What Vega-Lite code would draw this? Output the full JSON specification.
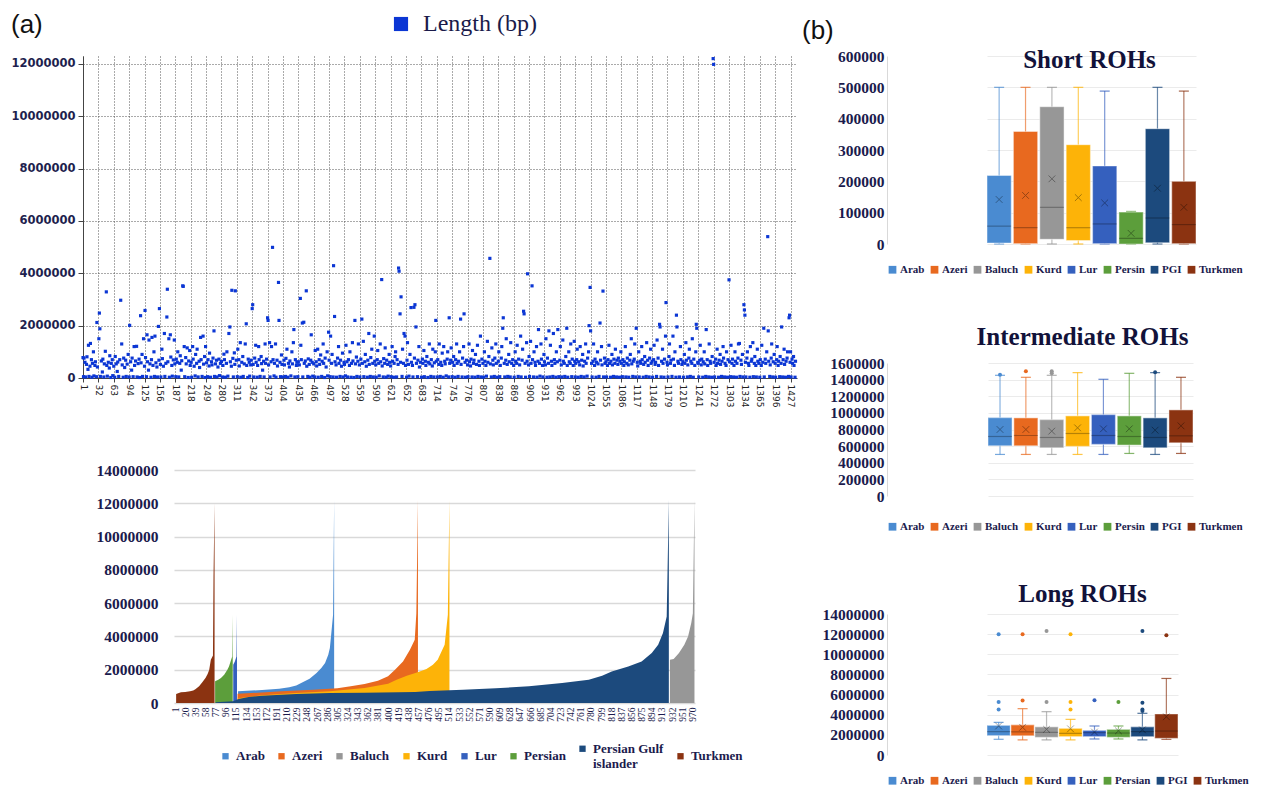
{
"$schema": "https://vega.github.io/schema/vega-lite/v6.json",
"background": "white",
"padding": {"left": 10, "top": 12, "right": 0, "bottom": 0},
"spacing": 4,
"resolve": {"scale": {"color": "independent", "x": "independent", "y": "independent"}, "legend": {"color": "independent"}, "axis": {"x": "independent", "y": "independent"}},
"config": {
  "view": {"stroke": null},
  "font": "Liberation Serif",
  "axis": {"labelFont": "Liberation Serif", "labelFontWeight": "bold", "labelFontSize": 15.5, "labelColor": "#1b1b4d", "ticks": false, "domainColor": "#d9d9d9", "gridColor": "#ebebeb", "labelPadding": 3, "labelOverlap": false},
  "legend": {"orient": "bottom", "direction": "horizontal", "symbolType": "square", "symbolSize": 60, "symbolStrokeWidth": 0, "symbolOpacity": 1, "labelFont": "Liberation Serif", "labelFontWeight": "bold", "labelFontSize": 11, "labelColor": "#1b1b4d", "columnPadding": 4, "labelOffset": 2, "offset": 20}
},
"hconcat": [
{
  "title": {"text": "(a)", "anchor": "start", "font": "Liberation Sans", "fontSize": 26, "fontWeight": "normal", "color": "#111111", "dy": 30},
  "spacing": 56,
  "resolve": {"scale": {"color": "independent", "x": "independent", "y": "independent"}, "legend": {"color": "independent"}},
  "vconcat": [
  {
    "width": 714, "height": 322,
    "data": {"values": [
{"i":1,"v":780000},{"i":2,"v":50000},{"i":3,"v":760000},{"i":5,"v":600000},{"i":6,"v":40000},{"i":8,"v":520000},{"i":9,"v":810000},{"i":11,"v":330000},{"i":12,"v":1250000},{"i":13,"v":60000},{"i":15,"v":450000},{"i":16,"v":1320000},{"i":18,"v":700000},{"i":19,"v":30000},{"i":20,"v":560000},{"i":22,"v":1000000},{"i":23,"v":80000},{"i":25,"v":480000},{"i":26,"v":620000},{"i":28,"v":50000},{"i":29,"v":2120000},{"i":30,"v":420000},
{"i":33,"v":1500000},{"i":34,"v":2480000},{"i":35,"v":1880000},{"i":36,"v":60000},{"i":38,"v":650000},{"i":40,"v":230000},{"i":41,"v":720000},{"i":43,"v":40000},{"i":44,"v":540000},{"i":46,"v":1020000},{"i":48,"v":3290000},{"i":49,"v":480000},{"i":50,"v":70000},{"i":52,"v":600000},{"i":54,"v":380000},{"i":55,"v":850000},{"i":57,"v":20000},{"i":58,"v":560000},{"i":60,"v":700000},{"i":61,"v":90000},
{"i":63,"v":450000},{"i":65,"v":30000},{"i":66,"v":820000},{"i":68,"v":540000},{"i":70,"v":250000},{"i":71,"v":610000},{"i":73,"v":60000},{"i":75,"v":700000},{"i":77,"v":2970000},{"i":79,"v":1300000},{"i":80,"v":500000},{"i":82,"v":30000},{"i":83,"v":760000},{"i":85,"v":400000},{"i":87,"v":680000},{"i":88,"v":60000},{"i":90,"v":530000},{"i":92,"v":900000},
{"i":94,"v":40000},{"i":95,"v":2010000},{"i":97,"v":620000},{"i":99,"v":300000},{"i":100,"v":760000},{"i":102,"v":50000},{"i":104,"v":1200000},{"i":105,"v":480000},{"i":107,"v":650000},{"i":109,"v":1210000},{"i":110,"v":40000},{"i":112,"v":550000},{"i":114,"v":720000},{"i":115,"v":20000},{"i":117,"v":2380000},{"i":118,"v":580000},{"i":120,"v":900000},{"i":121,"v":60000},{"i":123,"v":1500000},
{"i":125,"v":450000},{"i":126,"v":2580000},{"i":127,"v":780000},{"i":129,"v":50000},{"i":130,"v":1650000},{"i":131,"v":620000},{"i":133,"v":300000},{"i":134,"v":1450000},{"i":136,"v":540000},{"i":138,"v":30000},{"i":139,"v":700000},{"i":140,"v":1550000},{"i":142,"v":480000},{"i":144,"v":1000000},{"i":145,"v":60000},{"i":146,"v":1600000},{"i":148,"v":580000},{"i":150,"v":420000},{"i":151,"v":40000},{"i":153,"v":1970000},{"i":154,"v":680000},{"i":155,"v":2650000},
{"i":157,"v":520000},{"i":158,"v":40000},{"i":160,"v":1100000},{"i":161,"v":740000},{"i":163,"v":450000},{"i":165,"v":1700000},{"i":166,"v":60000},{"i":168,"v":560000},{"i":170,"v":2330000},{"i":171,"v":3390000},{"i":172,"v":620000},{"i":174,"v":1500000},{"i":175,"v":30000},{"i":177,"v":1650000},{"i":178,"v":800000},{"i":180,"v":480000},{"i":181,"v":70000},{"i":183,"v":690000},{"i":185,"v":1450000},{"i":186,"v":540000},
{"i":188,"v":50000},{"i":189,"v":720000},{"i":191,"v":600000},{"i":192,"v":1000000},{"i":194,"v":40000},{"i":196,"v":560000},{"i":197,"v":850000},{"i":199,"v":300000},{"i":200,"v":660000},{"i":202,"v":3520000},{"i":203,"v":3500000},{"i":205,"v":1200000},{"i":206,"v":50000},{"i":208,"v":780000},{"i":209,"v":540000},{"i":211,"v":1150000},{"i":213,"v":20000},{"i":214,"v":650000},{"i":216,"v":1050000},{"i":217,"v":480000},
{"i":219,"v":600000},{"i":220,"v":30000},{"i":222,"v":1200000},{"i":223,"v":720000},{"i":225,"v":450000},{"i":227,"v":80000},{"i":228,"v":900000},{"i":230,"v":560000},{"i":231,"v":1100000},{"i":233,"v":40000},{"i":235,"v":640000},{"i":236,"v":400000},{"i":238,"v":1550000},{"i":239,"v":700000},{"i":241,"v":60000},{"i":243,"v":1600000},{"i":244,"v":530000},{"i":246,"v":820000},{"i":247,"v":20000},{"i":248,"v":1200000},
{"i":250,"v":580000},{"i":252,"v":50000},{"i":253,"v":700000},{"i":255,"v":460000},{"i":256,"v":950000},{"i":258,"v":30000},{"i":260,"v":620000},{"i":261,"v":500000},{"i":263,"v":760000},{"i":265,"v":1800000},{"i":266,"v":60000},{"i":268,"v":540000},{"i":270,"v":680000},{"i":271,"v":40000},{"i":273,"v":420000},{"i":275,"v":720000},{"i":276,"v":90000},{"i":278,"v":560000},
{"i":280,"v":630000},{"i":282,"v":40000},{"i":283,"v":480000},{"i":285,"v":910000},{"i":286,"v":700000},{"i":288,"v":30000},{"i":290,"v":560000},{"i":291,"v":1000000},{"i":293,"v":70000},{"i":295,"v":1700000},{"i":297,"v":1950000},{"i":298,"v":620000},{"i":300,"v":450000},{"i":301,"v":3350000},{"i":303,"v":750000},{"i":304,"v":40000},{"i":306,"v":960000},{"i":307,"v":520000},{"i":308,"v":3330000},{"i":310,"v":680000},
{"i":312,"v":50000},{"i":313,"v":1100000},{"i":315,"v":700000},{"i":316,"v":460000},{"i":318,"v":1350000},{"i":319,"v":30000},{"i":321,"v":600000},{"i":323,"v":820000},{"i":324,"v":60000},{"i":326,"v":540000},{"i":328,"v":1300000},{"i":330,"v":2070000},{"i":331,"v":480000},{"i":333,"v":20000},{"i":334,"v":720000},{"i":336,"v":600000},{"i":337,"v":70000},{"i":339,"v":500000},{"i":340,"v":680000},
{"i":342,"v":2650000},{"i":343,"v":2800000},{"i":344,"v":520000},{"i":345,"v":40000},{"i":347,"v":760000},{"i":349,"v":1250000},{"i":350,"v":600000},{"i":352,"v":30000},{"i":353,"v":480000},{"i":355,"v":1200000},{"i":356,"v":700000},{"i":358,"v":60000},{"i":360,"v":820000},{"i":361,"v":550000},{"i":363,"v":300000},{"i":365,"v":640000},{"i":366,"v":40000},{"i":368,"v":1300000},{"i":369,"v":560000},{"i":371,"v":720000},
{"i":373,"v":2300000},{"i":374,"v":2200000},{"i":375,"v":500000},{"i":377,"v":1350000},{"i":378,"v":40000},{"i":380,"v":620000},{"i":381,"v":1200000},{"i":383,"v":4990000},{"i":384,"v":700000},{"i":386,"v":80000},{"i":387,"v":560000},{"i":389,"v":1300000},{"i":390,"v":30000},{"i":392,"v":680000},{"i":393,"v":460000},{"i":395,"v":3650000},{"i":396,"v":2200000},{"i":398,"v":600000},{"i":399,"v":50000},{"i":401,"v":880000},{"i":402,"v":520000},
{"i":404,"v":40000},{"i":406,"v":680000},{"i":407,"v":500000},{"i":409,"v":60000},{"i":410,"v":750000},{"i":412,"v":1100000},{"i":414,"v":30000},{"i":415,"v":560000},{"i":417,"v":420000},{"i":418,"v":650000},{"i":420,"v":80000},{"i":422,"v":1000000},{"i":423,"v":540000},{"i":425,"v":1350000},{"i":426,"v":1850000},{"i":428,"v":40000},{"i":429,"v":700000},{"i":431,"v":480000},{"i":432,"v":600000},{"i":434,"v":50000},
{"i":435,"v":620000},{"i":437,"v":500000},{"i":439,"v":3040000},{"i":440,"v":1250000},{"i":441,"v":700000},{"i":443,"v":2100000},{"i":444,"v":40000},{"i":446,"v":2130000},{"i":447,"v":560000},{"i":449,"v":650000},{"i":451,"v":3330000},{"i":452,"v":450000},{"i":454,"v":60000},{"i":455,"v":730000},{"i":457,"v":520000},{"i":458,"v":30000},{"i":460,"v":680000},{"i":461,"v":1650000},{"i":463,"v":600000},{"i":464,"v":70000},
{"i":466,"v":540000},{"i":468,"v":40000},{"i":469,"v":1050000},{"i":471,"v":620000},{"i":472,"v":460000},{"i":474,"v":1100000},{"i":475,"v":30000},{"i":477,"v":700000},{"i":478,"v":520000},{"i":480,"v":880000},{"i":482,"v":60000},{"i":483,"v":640000},{"i":485,"v":1300000},{"i":486,"v":560000},{"i":488,"v":20000},{"i":489,"v":760000},{"i":491,"v":420000},{"i":493,"v":1000000},{"i":494,"v":80000},{"i":496,"v":1750000},
{"i":497,"v":680000},{"i":499,"v":50000},{"i":500,"v":1600000},{"i":502,"v":560000},{"i":503,"v":900000},{"i":505,"v":40000},{"i":506,"v":4290000},{"i":508,"v":2350000},{"i":509,"v":620000},{"i":511,"v":500000},{"i":512,"v":30000},{"i":514,"v":760000},{"i":516,"v":1200000},{"i":517,"v":560000},{"i":519,"v":60000},{"i":520,"v":680000},{"i":522,"v":450000},{"i":524,"v":950000},{"i":525,"v":40000},{"i":527,"v":600000},
{"i":528,"v":520000},{"i":530,"v":80000},{"i":531,"v":1250000},{"i":533,"v":620000},{"i":534,"v":40000},{"i":536,"v":700000},{"i":538,"v":480000},{"i":539,"v":1000000},{"i":541,"v":30000},{"i":542,"v":560000},{"i":544,"v":1350000},{"i":545,"v":650000},{"i":547,"v":20000},{"i":549,"v":2200000},{"i":550,"v":540000},{"i":552,"v":800000},{"i":553,"v":60000},{"i":555,"v":640000},{"i":556,"v":1300000},{"i":558,"v":500000},
{"i":559,"v":40000},{"i":561,"v":720000},{"i":563,"v":2250000},{"i":564,"v":560000},{"i":566,"v":1400000},{"i":567,"v":50000},{"i":569,"v":620000},{"i":570,"v":900000},{"i":572,"v":450000},{"i":574,"v":30000},{"i":575,"v":680000},{"i":577,"v":1700000},{"i":578,"v":520000},{"i":580,"v":60000},{"i":581,"v":780000},{"i":583,"v":1100000},{"i":585,"v":560000},{"i":586,"v":40000},{"i":588,"v":1600000},{"i":589,"v":640000},
{"i":591,"v":500000},{"i":592,"v":30000},{"i":594,"v":700000},{"i":595,"v":1050000},{"i":597,"v":560000},{"i":598,"v":80000},{"i":600,"v":1300000},{"i":601,"v":620000},{"i":603,"v":3760000},{"i":604,"v":460000},{"i":606,"v":40000},{"i":607,"v":740000},{"i":609,"v":560000},{"i":610,"v":1150000},{"i":612,"v":30000},{"i":613,"v":680000},{"i":615,"v":520000},{"i":616,"v":70000},{"i":618,"v":900000},{"i":619,"v":600000},
{"i":621,"v":460000},{"i":622,"v":50000},{"i":624,"v":1200000},{"i":625,"v":640000},{"i":627,"v":30000},{"i":628,"v":560000},{"i":630,"v":820000},{"i":631,"v":1000000},{"i":633,"v":40000},{"i":634,"v":700000},{"i":636,"v":520000},{"i":637,"v":4200000},{"i":638,"v":4080000},{"i":640,"v":2450000},{"i":641,"v":600000},{"i":642,"v":3100000},{"i":644,"v":60000},{"i":645,"v":1100000},{"i":647,"v":560000},{"i":648,"v":1700000},{"i":650,"v":1600000},{"i":651,"v":480000},
{"i":653,"v":30000},{"i":654,"v":680000},{"i":655,"v":1350000},{"i":657,"v":520000},{"i":658,"v":70000},{"i":660,"v":900000},{"i":662,"v":2690000},{"i":663,"v":600000},{"i":665,"v":480000},{"i":666,"v":40000},{"i":668,"v":2700000},{"i":669,"v":760000},{"i":670,"v":2800000},{"i":672,"v":1950000},{"i":673,"v":560000},{"i":675,"v":50000},{"i":676,"v":680000},{"i":678,"v":1200000},{"i":679,"v":420000},{"i":681,"v":600000},
{"i":683,"v":30000},{"i":685,"v":720000},{"i":686,"v":560000},{"i":688,"v":1050000},{"i":689,"v":50000},{"i":691,"v":640000},{"i":692,"v":480000},{"i":694,"v":820000},{"i":696,"v":20000},{"i":697,"v":600000},{"i":699,"v":1300000},{"i":700,"v":540000},{"i":702,"v":60000},{"i":703,"v":700000},{"i":705,"v":460000},{"i":706,"v":1100000},{"i":708,"v":40000},{"i":709,"v":580000},{"i":711,"v":1000000},{"i":712,"v":2200000},{"i":713,"v":640000},
{"i":715,"v":40000},{"i":716,"v":700000},{"i":718,"v":520000},{"i":719,"v":1300000},{"i":721,"v":60000},{"i":722,"v":600000},{"i":724,"v":480000},{"i":725,"v":950000},{"i":727,"v":30000},{"i":728,"v":1200000},{"i":730,"v":640000},{"i":731,"v":540000},{"i":733,"v":80000},{"i":735,"v":720000},{"i":736,"v":1000000},{"i":738,"v":40000},{"i":739,"v":2300000},{"i":740,"v":560000},{"i":742,"v":680000},{"i":743,"v":1150000},
{"i":745,"v":50000},{"i":746,"v":600000},{"i":748,"v":820000},{"i":749,"v":480000},{"i":751,"v":30000},{"i":752,"v":700000},{"i":754,"v":1300000},{"i":755,"v":560000},{"i":757,"v":60000},{"i":758,"v":640000},{"i":760,"v":1000000},{"i":762,"v":2250000},{"i":763,"v":520000},{"i":765,"v":40000},{"i":766,"v":760000},{"i":768,"v":1200000},{"i":769,"v":2450000},{"i":771,"v":600000},{"i":772,"v":30000},{"i":774,"v":680000},
{"i":776,"v":500000},{"i":777,"v":50000},{"i":779,"v":1300000},{"i":780,"v":620000},{"i":782,"v":460000},{"i":783,"v":720000},{"i":785,"v":40000},{"i":786,"v":1050000},{"i":788,"v":560000},{"i":789,"v":680000},{"i":791,"v":30000},{"i":792,"v":900000},{"i":794,"v":520000},{"i":796,"v":1250000},{"i":797,"v":60000},{"i":799,"v":640000},{"i":800,"v":480000},{"i":802,"v":1600000},{"i":803,"v":40000},{"i":805,"v":720000},
{"i":807,"v":560000},{"i":808,"v":30000},{"i":810,"v":1000000},{"i":811,"v":640000},{"i":813,"v":480000},{"i":814,"v":70000},{"i":816,"v":1400000},{"i":817,"v":600000},{"i":819,"v":820000},{"i":821,"v":4570000},{"i":822,"v":540000},{"i":824,"v":40000},{"i":825,"v":1150000},{"i":827,"v":680000},{"i":828,"v":500000},{"i":830,"v":60000},{"i":831,"v":760000},{"i":833,"v":1300000},{"i":834,"v":560000},{"i":836,"v":30000},
{"i":838,"v":640000},{"i":839,"v":1000000},{"i":841,"v":50000},{"i":842,"v":480000},{"i":844,"v":760000},{"i":845,"v":1200000},{"i":847,"v":1900000},{"i":848,"v":2300000},{"i":850,"v":560000},{"i":851,"v":40000},{"i":853,"v":680000},{"i":854,"v":1500000},{"i":856,"v":520000},{"i":857,"v":60000},{"i":859,"v":900000},{"i":860,"v":620000},{"i":862,"v":40000},{"i":863,"v":1350000},{"i":865,"v":560000},{"i":867,"v":700000},
{"i":869,"v":480000},{"i":870,"v":30000},{"i":872,"v":1000000},{"i":873,"v":640000},{"i":875,"v":560000},{"i":876,"v":1250000},{"i":878,"v":60000},{"i":879,"v":720000},{"i":881,"v":500000},{"i":883,"v":1600000},{"i":884,"v":40000},{"i":886,"v":680000},{"i":887,"v":1100000},{"i":889,"v":2550000},{"i":890,"v":2450000},{"i":892,"v":560000},{"i":893,"v":30000},{"i":895,"v":1350000},{"i":896,"v":640000},{"i":897,"v":3980000},{"i":899,"v":500000},
{"i":900,"v":820000},{"i":901,"v":60000},{"i":903,"v":1400000},{"i":904,"v":560000},{"i":906,"v":3520000},{"i":907,"v":700000},{"i":909,"v":40000},{"i":910,"v":1000000},{"i":912,"v":600000},{"i":913,"v":480000},{"i":915,"v":1200000},{"i":916,"v":30000},{"i":918,"v":640000},{"i":919,"v":1850000},{"i":921,"v":560000},{"i":922,"v":70000},{"i":924,"v":1300000},{"i":925,"v":720000},{"i":927,"v":480000},{"i":928,"v":40000},{"i":930,"v":900000},
{"i":931,"v":620000},{"i":933,"v":500000},{"i":934,"v":1500000},{"i":936,"v":30000},{"i":937,"v":760000},{"i":939,"v":560000},{"i":940,"v":1800000},{"i":942,"v":40000},{"i":943,"v":1250000},{"i":945,"v":640000},{"i":946,"v":480000},{"i":948,"v":60000},{"i":949,"v":1700000},{"i":951,"v":700000},{"i":952,"v":560000},{"i":954,"v":30000},{"i":955,"v":1000000},{"i":957,"v":620000},{"i":958,"v":1850000},{"i":960,"v":50000},
{"i":962,"v":680000},{"i":963,"v":1200000},{"i":965,"v":500000},{"i":966,"v":40000},{"i":968,"v":1450000},{"i":969,"v":640000},{"i":971,"v":560000},{"i":972,"v":60000},{"i":974,"v":820000},{"i":976,"v":1900000},{"i":977,"v":480000},{"i":978,"v":30000},{"i":980,"v":1000000},{"i":981,"v":620000},{"i":983,"v":560000},{"i":984,"v":1300000},{"i":986,"v":50000},{"i":987,"v":720000},{"i":989,"v":480000},{"i":991,"v":1400000},{"i":992,"v":640000},
{"i":993,"v":40000},{"i":994,"v":560000},{"i":996,"v":700000},{"i":997,"v":1100000},{"i":999,"v":30000},{"i":1000,"v":620000},{"i":1002,"v":500000},{"i":1003,"v":1200000},{"i":1005,"v":60000},{"i":1006,"v":680000},{"i":1008,"v":900000},{"i":1009,"v":460000},{"i":1011,"v":40000},{"i":1012,"v":640000},{"i":1014,"v":1300000},{"i":1015,"v":560000},{"i":1017,"v":70000},{"i":1018,"v":760000},{"i":1020,"v":1000000},{"i":1021,"v":2000000},{"i":1023,"v":3460000},{"i":1024,"v":1800000},
{"i":1026,"v":560000},{"i":1027,"v":40000},{"i":1029,"v":640000},{"i":1030,"v":1300000},{"i":1032,"v":480000},{"i":1033,"v":720000},{"i":1035,"v":30000},{"i":1036,"v":600000},{"i":1038,"v":1000000},{"i":1039,"v":540000},{"i":1041,"v":60000},{"i":1043,"v":2100000},{"i":1044,"v":680000},{"i":1046,"v":1200000},{"i":1047,"v":500000},{"i":1049,"v":3320000},{"i":1050,"v":40000},{"i":1052,"v":760000},{"i":1053,"v":560000},
{"i":1055,"v":620000},{"i":1056,"v":40000},{"i":1058,"v":480000},{"i":1059,"v":700000},{"i":1061,"v":1250000},{"i":1062,"v":560000},{"i":1064,"v":30000},{"i":1065,"v":640000},{"i":1067,"v":900000},{"i":1068,"v":500000},{"i":1070,"v":60000},{"i":1071,"v":720000},{"i":1073,"v":560000},{"i":1074,"v":1100000},{"i":1076,"v":40000},{"i":1077,"v":680000},{"i":1079,"v":520000},{"i":1080,"v":760000},{"i":1082,"v":30000},{"i":1083,"v":640000},{"i":1085,"v":1000000},
{"i":1086,"v":560000},{"i":1088,"v":50000},{"i":1089,"v":700000},{"i":1091,"v":480000},{"i":1092,"v":620000},{"i":1094,"v":1200000},{"i":1095,"v":40000},{"i":1097,"v":560000},{"i":1098,"v":760000},{"i":1100,"v":500000},{"i":1101,"v":30000},{"i":1103,"v":680000},{"i":1104,"v":900000},{"i":1106,"v":1500000},{"i":1107,"v":540000},{"i":1109,"v":60000},{"i":1110,"v":640000},{"i":1112,"v":720000},{"i":1113,"v":1300000},{"i":1115,"v":40000},{"i":1116,"v":1900000},
{"i":1118,"v":600000},{"i":1119,"v":460000},{"i":1121,"v":1000000},{"i":1122,"v":40000},{"i":1124,"v":640000},{"i":1125,"v":560000},{"i":1127,"v":1200000},{"i":1128,"v":700000},{"i":1130,"v":30000},{"i":1131,"v":520000},{"i":1133,"v":820000},{"i":1134,"v":600000},{"i":1136,"v":60000},{"i":1137,"v":1350000},{"i":1139,"v":680000},{"i":1140,"v":480000},{"i":1142,"v":40000},{"i":1143,"v":760000},{"i":1145,"v":1100000},{"i":1146,"v":560000},
{"i":1148,"v":640000},{"i":1149,"v":30000},{"i":1151,"v":700000},{"i":1152,"v":1250000},{"i":1154,"v":520000},{"i":1155,"v":600000},{"i":1157,"v":60000},{"i":1158,"v":1450000},{"i":1160,"v":760000},{"i":1161,"v":480000},{"i":1163,"v":2050000},{"i":1164,"v":1950000},{"i":1166,"v":40000},{"i":1167,"v":640000},{"i":1169,"v":1100000},{"i":1170,"v":560000},{"i":1172,"v":30000},{"i":1173,"v":720000},{"i":1175,"v":1600000},{"i":1176,"v":2880000},{"i":1178,"v":600000},
{"i":1179,"v":500000},{"i":1180,"v":40000},{"i":1182,"v":820000},{"i":1183,"v":1300000},{"i":1185,"v":560000},{"i":1186,"v":680000},{"i":1188,"v":60000},{"i":1190,"v":1600000},{"i":1191,"v":720000},{"i":1193,"v":480000},{"i":1194,"v":1000000},{"i":1196,"v":30000},{"i":1197,"v":2400000},{"i":1198,"v":1950000},{"i":1200,"v":640000},{"i":1201,"v":560000},{"i":1203,"v":40000},{"i":1205,"v":1200000},{"i":1206,"v":700000},{"i":1208,"v":520000},
{"i":1210,"v":620000},{"i":1211,"v":30000},{"i":1213,"v":900000},{"i":1214,"v":560000},{"i":1216,"v":1350000},{"i":1217,"v":680000},{"i":1219,"v":40000},{"i":1220,"v":500000},{"i":1222,"v":760000},{"i":1223,"v":1100000},{"i":1225,"v":60000},{"i":1226,"v":640000},{"i":1228,"v":560000},{"i":1229,"v":1500000},{"i":1231,"v":30000},{"i":1232,"v":720000},{"i":1234,"v":480000},{"i":1236,"v":1000000},{"i":1237,"v":2050000},{"i":1238,"v":1900000},{"i":1240,"v":600000},
{"i":1241,"v":560000},{"i":1242,"v":40000},{"i":1244,"v":680000},{"i":1245,"v":1250000},{"i":1247,"v":500000},{"i":1248,"v":720000},{"i":1250,"v":30000},{"i":1251,"v":620000},{"i":1253,"v":1000000},{"i":1254,"v":540000},{"i":1256,"v":60000},{"i":1257,"v":1850000},{"i":1259,"v":700000},{"i":1260,"v":480000},{"i":1262,"v":40000},{"i":1263,"v":1300000},{"i":1265,"v":640000},{"i":1266,"v":560000},{"i":1268,"v":30000},{"i":1269,"v":820000},{"i":1271,"v":12200000},{"i":1272,"v":11980000},
{"i":1273,"v":600000},{"i":1274,"v":40000},{"i":1276,"v":720000},{"i":1277,"v":480000},{"i":1279,"v":1100000},{"i":1280,"v":560000},{"i":1282,"v":30000},{"i":1283,"v":680000},{"i":1285,"v":900000},{"i":1286,"v":520000},{"i":1288,"v":60000},{"i":1289,"v":640000},{"i":1291,"v":1200000},{"i":1292,"v":760000},{"i":1294,"v":40000},{"i":1295,"v":560000},{"i":1297,"v":480000},{"i":1298,"v":1000000},{"i":1300,"v":30000},{"i":1301,"v":700000},{"i":1303,"v":3750000},
{"i":1304,"v":620000},{"i":1306,"v":50000},{"i":1307,"v":1250000},{"i":1309,"v":560000},{"i":1310,"v":720000},{"i":1312,"v":40000},{"i":1313,"v":480000},{"i":1315,"v":1000000},{"i":1316,"v":640000},{"i":1318,"v":30000},{"i":1319,"v":560000},{"i":1321,"v":760000},{"i":1322,"v":1300000},{"i":1324,"v":1320000},{"i":1325,"v":60000},{"i":1327,"v":680000},{"i":1328,"v":520000},{"i":1330,"v":900000},{"i":1331,"v":40000},{"i":1333,"v":2800000},
{"i":1334,"v":2600000},{"i":1335,"v":2400000},{"i":1336,"v":600000},{"i":1337,"v":40000},{"i":1339,"v":760000},{"i":1340,"v":1000000},{"i":1342,"v":560000},{"i":1343,"v":480000},{"i":1345,"v":30000},{"i":1346,"v":1200000},{"i":1348,"v":640000},{"i":1349,"v":720000},{"i":1351,"v":1350000},{"i":1352,"v":50000},{"i":1354,"v":560000},{"i":1355,"v":820000},{"i":1357,"v":480000},{"i":1358,"v":40000},{"i":1360,"v":1100000},{"i":1361,"v":640000},{"i":1363,"v":560000},
{"i":1365,"v":30000},{"i":1366,"v":700000},{"i":1368,"v":480000},{"i":1369,"v":1250000},{"i":1371,"v":600000},{"i":1373,"v":1900000},{"i":1374,"v":40000},{"i":1376,"v":720000},{"i":1377,"v":560000},{"i":1379,"v":1000000},{"i":1381,"v":5400000},{"i":1382,"v":1800000},{"i":1383,"v":640000},{"i":1385,"v":60000},{"i":1386,"v":500000},{"i":1388,"v":760000},{"i":1389,"v":1300000},{"i":1391,"v":40000},{"i":1392,"v":620000},{"i":1394,"v":900000},
{"i":1396,"v":560000},{"i":1397,"v":30000},{"i":1399,"v":700000},{"i":1400,"v":1200000},{"i":1402,"v":480000},{"i":1403,"v":640000},{"i":1405,"v":50000},{"i":1406,"v":820000},{"i":1408,"v":560000},{"i":1409,"v":1950000},{"i":1411,"v":40000},{"i":1412,"v":700000},{"i":1414,"v":1100000},{"i":1415,"v":520000},{"i":1417,"v":30000},{"i":1418,"v":640000},{"i":1420,"v":760000},{"i":1421,"v":1000000},{"i":1423,"v":60000},{"i":1424,"v":2300000},{"i":1425,"v":2400000},{"i":1426,"v":600000},
{"i":1427,"v":1000000},{"i":1428,"v":40000},{"i":1430,"v":720000},{"i":1431,"v":560000},{"i":1433,"v":820000},{"i":1434,"v":480000},{"i":1436,"v":30000},{"i":1437,"v":640000}
    ]},
    "mark": {"type": "square", "size": 10, "opacity": 1},
    "encoding": {
      "x": {"field": "i", "type": "quantitative", "scale": {"domain": [1, 1440], "nice": false, "zero": false},
        "axis": {"values": [1,32,63,94,125,156,187,218,249,280,311,342,373,404,435,466,497,528,559,590,621,652,683,714,745,776,807,838,869,900,931,962,993,1024,1055,1086,1117,1148,1179,1210,1241,1272,1303,1334,1365,1396,1427],
          "format": "d", "title": null, "labelAngle": 90, "labelAlign": "left", "labelBaseline": "middle", "labelFont": "DejaVu Sans", "labelFontWeight": "normal", "labelFontSize": 9, "labelColor": "#222222", "labelPadding": 2, "labelOverlap": false,
          "grid": true, "gridDash": [1, 2], "gridColor": "#555555", "gridWidth": 1, "domainColor": "#444444", "ticks": true, "tickColor": "#444444", "tickSize": 4}},
      "y": {"field": "v", "type": "quantitative", "scale": {"domain": [0, 12300000], "nice": false},
        "axis": {"values": [0,2000000,4000000,6000000,8000000,10000000,12000000], "format": "d", "title": null,
          "labelFont": "DejaVu Sans", "labelFontWeight": "bold", "labelFontSize": 11.5, "labelColor": "#1f1f4f", "labelPadding": 3, "labelOverlap": false,
          "grid": true, "gridDash": [1, 2], "gridColor": "#555555", "domainColor": "#444444", "ticks": true, "tickColor": "#444444", "tickSize": 5}},
      "color": {"datum": "Length (bp)", "type": "nominal", "scale": {"range": ["#0b36d4"]},
        "legend": {"orient": "none", "legendX": 306, "legendY": -44, "title": null, "symbolType": "square", "symbolSize": 200, "labelFont": "Liberation Serif", "labelFontWeight": "normal", "labelFontSize": 24, "labelColor": "#1a1a4a", "labelOffset": 10}}
    }
  },
  {
    "spacing": 0,
    "resolve": {"scale": {"color": "independent", "x": "independent", "y": "independent"}, "legend": {"color": "independent"}},
    "hconcat": [
      {"width": 13, "height": 233, "data": {"values": [{}]}, "mark": {"type": "point", "opacity": 0}, "encoding": {}},
      {
        "width": 521, "height": 233,
        "data": {"values": [
{"p":"Turkmen","i":3,"v":540000},{"p":"Turkmen","i":8,"v":600000},{"p":"Turkmen","i":12,"v":640000},{"p":"Turkmen","i":20,"v":660000},{"p":"Turkmen","i":29,"v":700000},{"p":"Turkmen","i":35,"v":750000},{"p":"Turkmen","i":39,"v":820000},{"p":"Turkmen","i":46,"v":1000000},{"p":"Turkmen","i":52,"v":1250000},{"p":"Turkmen","i":58,"v":1500000},{"p":"Turkmen","i":62,"v":1750000},{"p":"Turkmen","i":65,"v":2000000},{"p":"Turkmen","i":68,"v":2600000},{"p":"Turkmen","i":72,"v":2850000},{"p":"Turkmen","i":73,"v":7600000},{"p":"Turkmen","i":75,"v":12000000},
{"p":"Persian","i":76,"v":1300000},{"p":"Persian","i":82,"v":1400000},{"p":"Persian","i":87,"v":1500000},{"p":"Persian","i":93,"v":1700000},{"p":"Persian","i":99,"v":2000000},{"p":"Persian","i":102,"v":2200000},{"p":"Persian","i":105,"v":2500000},{"p":"Persian","i":108,"v":2800000},{"p":"Persian","i":109,"v":5300000},
{"p":"Lur","i":110,"v":2300000},{"p":"Lur","i":113,"v":2500000},{"p":"Lur","i":116,"v":2800000},{"p":"Lur","i":117,"v":5300000},
{"p":"Arab","i":119,"v":700000},{"p":"Arab","i":164,"v":780000},{"p":"Arab","i":196,"v":850000},{"p":"Arab","i":215,"v":950000},{"p":"Arab","i":228,"v":1050000},{"p":"Arab","i":240,"v":1250000},{"p":"Arab","i":253,"v":1450000},{"p":"Arab","i":266,"v":1800000},{"p":"Arab","i":275,"v":2100000},{"p":"Arab","i":282,"v":2400000},{"p":"Arab","i":288,"v":2900000},{"p":"Arab","i":291,"v":3300000},{"p":"Arab","i":294,"v":4300000},{"p":"Arab","i":297,"v":5300000},{"p":"Arab","i":299,"v":12200000},
{"p":"Azeri","i":118,"v":550000},{"p":"Azeri","i":200,"v":700000},{"p":"Azeri","i":260,"v":800000},{"p":"Azeri","i":305,"v":880000},{"p":"Azeri","i":330,"v":1000000},{"p":"Azeri","i":356,"v":1140000},{"p":"Azeri","i":381,"v":1340000},{"p":"Azeri","i":400,"v":1600000},{"p":"Azeri","i":413,"v":2000000},{"p":"Azeri","i":428,"v":2500000},{"p":"Azeri","i":441,"v":3200000},{"p":"Azeri","i":450,"v":3800000},{"p":"Azeri","i":453,"v":5400000},{"p":"Azeri","i":456,"v":12200000},
{"p":"Kurd","i":118,"v":250000},{"p":"Kurd","i":123,"v":300000},{"p":"Kurd","i":164,"v":460000},{"p":"Kurd","i":228,"v":600000},{"p":"Kurd","i":291,"v":700000},{"p":"Kurd","i":356,"v":900000},{"p":"Kurd","i":400,"v":1150000},{"p":"Kurd","i":416,"v":1400000},{"p":"Kurd","i":435,"v":1640000},{"p":"Kurd","i":454,"v":1840000},{"p":"Kurd","i":472,"v":2040000},{"p":"Kurd","i":484,"v":2300000},{"p":"Kurd","i":493,"v":2600000},{"p":"Kurd","i":506,"v":3500000},{"p":"Kurd","i":512,"v":5300000},{"p":"Kurd","i":515,"v":12200000},
{"p":"Persian Gulf islander","i":77,"v":40000},{"p":"Persian Gulf islander","i":110,"v":100000},{"p":"Persian Gulf islander","i":120,"v":240000},{"p":"Persian Gulf islander","i":139,"v":360000},{"p":"Persian Gulf islander","i":164,"v":440000},{"p":"Persian Gulf islander","i":228,"v":540000},{"p":"Persian Gulf islander","i":291,"v":600000},{"p":"Persian Gulf islander","i":356,"v":620000},{"p":"Persian Gulf islander","i":451,"v":660000},{"p":"Persian Gulf islander","i":478,"v":720000},{"p":"Persian Gulf islander","i":540,"v":800000},{"p":"Persian Gulf islander","i":602,"v":880000},{"p":"Persian Gulf islander","i":664,"v":1000000},{"p":"Persian Gulf islander","i":726,"v":1200000},{"p":"Persian Gulf islander","i":776,"v":1400000},{"p":"Persian Gulf islander","i":801,"v":1640000},{"p":"Persian Gulf islander","i":819,"v":1900000},{"p":"Persian Gulf islander","i":850,"v":2200000},{"p":"Persian Gulf islander","i":875,"v":2500000},{"p":"Persian Gulf islander","i":894,"v":3000000},{"p":"Persian Gulf islander","i":906,"v":3500000},{"p":"Persian Gulf islander","i":915,"v":4200000},{"p":"Persian Gulf islander","i":922,"v":5200000},{"p":"Persian Gulf islander","i":926,"v":12200000},
{"p":"Baluch","i":928,"v":2600000},{"p":"Baluch","i":935,"v":2650000},{"p":"Baluch","i":945,"v":3000000},{"p":"Baluch","i":955,"v":3500000},{"p":"Baluch","i":962,"v":4000000},{"p":"Baluch","i":968,"v":4800000},{"p":"Baluch","i":971,"v":5400000},{"p":"Baluch","i":974,"v":12200000}
        ]},
        "mark": {"type": "area", "interpolate": "linear"},
        "encoding": {
          "x": {"field": "i", "type": "quantitative", "scale": {"domain": [-1, 975], "nice": false, "zero": false},
            "axis": {"values": [1,20,39,58,77,96,115,134,153,172,191,210,229,248,267,286,305,324,343,362,381,400,419,438,457,476,495,514,533,552,571,590,609,628,647,666,685,704,723,742,761,780,799,818,837,856,875,894,913,932,951,970],
              "format": "d", "title": null, "labelAngle": -90, "labelAlign": "right", "labelBaseline": "middle", "labelFont": "Liberation Serif", "labelFontWeight": "normal", "labelFontSize": 9.5, "labelColor": "#1b1b4d", "labelPadding": 4, "labelOverlap": false, "grid": false, "domain": false, "ticks": false}},
          "y": {"field": "v", "type": "quantitative", "stack": null, "scale": {"domain": [0, 14000000], "nice": false},
            "axis": {"values": [0,2000000,4000000,6000000,8000000,10000000,12000000,14000000], "format": "d", "title": null, "labelFontSize": 15.5, "labelPadding": 16, "labelOverlap": false, "grid": true, "gridColor": "#d9d9d9", "gridWidth": 1.5, "domain": false, "ticks": false}},
          "color": {"field": "p", "type": "nominal",
            "scale": {"domain": ["Arab","Azeri","Baluch","Kurd","Lur","Persian","Persian Gulf islander","Turkmen"], "range": ["#4a8bd1","#e8691f","#979797","#fdb308","#3560be","#5c9e3b","#1c4a7d","#8b3311"]},
            "legend": {"orient": "none", "legendX": 45, "legendY": 272, "direction": "horizontal", "title": null, "symbolType": "square", "symbolSize": 40, "labelFontSize": 13, "columnPadding": 10, "labelOffset": 4,
              "labelExpr": "datum.label == 'Persian Gulf islander' ? ['Persian Gulf', 'islander'] : datum.label"}}
        }
      }
    ]
  }
  ]
},
{
  "title": {"text": "(b)", "anchor": "start", "font": "Liberation Sans", "fontSize": 26, "fontWeight": "normal", "color": "#111111", "dx": -20},
  "spacing": 50,
  "resolve": {"scale": {"color": "independent", "x": "independent", "y": "independent"}, "legend": {"color": "independent"}},
  "vconcat": [
  {
    "width": 391, "height": 188,
    "title": {"text": "Short ROHs", "font": "Liberation Serif", "fontSize": 25, "fontWeight": "bold", "color": "#12123a", "offset": -24, "dx": 7},
    "data": {"values": [
      {"g":"Arab","lo":0,"q1":3000,"med":57000,"q3":219000,"hi":500000,"mean":142000},
      {"g":"Azeri","lo":0,"q1":1000,"med":52000,"q3":359000,"hi":500000,"mean":155000},
      {"g":"Baluch","lo":0,"q1":15000,"med":117000,"q3":438000,"hi":500000,"mean":208000},
      {"g":"Kurd","lo":0,"q1":11000,"med":52000,"q3":317000,"hi":500000,"mean":148000},
      {"g":"Lur","lo":0,"q1":1000,"med":64000,"q3":249000,"hi":488000,"mean":131000},
      {"g":"Persin","lo":0,"q1":0,"med":18000,"q3":102000,"hi":104000,"mean":34000},
      {"g":"PGI","lo":0,"q1":4000,"med":83000,"q3":368000,"hi":500000,"mean":178000},
      {"g":"Turkmen","lo":0,"q1":1000,"med":62000,"q3":200000,"hi":488000,"mean":117000}
    ]},
    "encoding": {"x": {"field": "g", "type": "nominal", "sort": null, "axis": null, "scale": {"range": [100, 309], "paddingInner": 0.08, "paddingOuter": 0}}},
    "layer": [
      {"mark": {"type": "rule", "strokeWidth": 1.2, "opacity": 0.65},
       "encoding": {"y": {"field": "lo", "type": "quantitative", "title": null, "scale": {"domain": [0, 600000], "nice": false}, "axis": {"values": [0,100000,200000,300000,400000,500000,600000], "format": "d", "grid": true, "labelOverlap": false}},
         "y2": {"field": "hi"},
         "color": {"field": "g", "type": "nominal", "title": null, "scale": {"domain": ["Arab","Azeri","Baluch","Kurd","Lur","Persin","PGI","Turkmen"], "range": ["#4a8bd1","#e8691f","#979797","#fdb308","#3560be","#5c9e3b","#1c4a7d","#8b3311"]}}}},
      {"mark": {"type": "tick", "size": 10, "thickness": 1.2, "opacity": 0.75},
       "encoding": {"y": {"field": "lo", "type": "quantitative", "title": null, "axis": {"values": [0,100000,200000,300000,400000,500000,600000], "format": "d", "grid": true, "labelOverlap": false}},
         "color": {"field": "g", "type": "nominal", "title": null, "scale": {"domain": ["Arab","Azeri","Baluch","Kurd","Lur","Persin","PGI","Turkmen"], "range": ["#4a8bd1","#e8691f","#979797","#fdb308","#3560be","#5c9e3b","#1c4a7d","#8b3311"]}}}},
      {"mark": {"type": "tick", "size": 10, "thickness": 1.2, "opacity": 0.75},
       "encoding": {"y": {"field": "hi", "type": "quantitative", "title": null, "axis": {"values": [0,100000,200000,300000,400000,500000,600000], "format": "d", "grid": true, "labelOverlap": false}},
         "color": {"field": "g", "type": "nominal", "title": null, "scale": {"domain": ["Arab","Azeri","Baluch","Kurd","Lur","Persin","PGI","Turkmen"], "range": ["#4a8bd1","#e8691f","#979797","#fdb308","#3560be","#5c9e3b","#1c4a7d","#8b3311"]}}}},
      {"mark": {"type": "bar", "stroke": "#ffffff", "strokeOpacity": 0.4, "strokeWidth": 1.2},
       "encoding": {"y": {"field": "q1", "type": "quantitative", "title": null, "axis": {"values": [0,100000,200000,300000,400000,500000,600000], "format": "d", "grid": true, "labelOverlap": false}}, "y2": {"field": "q3"},
         "color": {"field": "g", "type": "nominal", "title": null, "scale": {"domain": ["Arab","Azeri","Baluch","Kurd","Lur","Persin","PGI","Turkmen"], "range": ["#4a8bd1","#e8691f","#979797","#fdb308","#3560be","#5c9e3b","#1c4a7d","#8b3311"]}}}},
      {"mark": {"type": "tick", "size": 24, "thickness": 1.2, "color": "#000000", "opacity": 0.28},
       "encoding": {"y": {"field": "med", "type": "quantitative", "title": null, "axis": {"values": [0,100000,200000,300000,400000,500000,600000], "format": "d", "grid": true, "labelOverlap": false}}}},
      {"mark": {"type": "point", "shape": "M-1,-1L1,1M1,-1L-1,1", "size": 45, "filled": false, "strokeWidth": 1, "color": "#000000", "opacity": 0.35},
       "encoding": {"y": {"field": "mean", "type": "quantitative", "title": null, "axis": {"values": [0,100000,200000,300000,400000,500000,600000], "format": "d", "grid": true, "labelOverlap": false}}}}
    ]
  },
  {
    "width": 391, "height": 133,
    "title": {"text": "Intermediate ROHs", "font": "Liberation Serif", "fontSize": 25, "fontWeight": "bold", "color": "#12123a", "offset": 6},
    "data": {"values": [
      {"g":"Arab","lo":500000,"q1":604000,"med":716000,"q3":944000,"hi":1452000,"mean":800000},
      {"g":"Azeri","lo":500000,"q1":604000,"med":728000,"q3":940000,"hi":1428000,"mean":800000},
      {"g":"Baluch","lo":500000,"q1":580000,"med":704000,"q3":920000,"hi":1452000,"mean":780000},
      {"g":"Kurd","lo":500000,"q1":596000,"med":752000,"q3":964000,"hi":1484000,"mean":820000},
      {"g":"Lur","lo":500000,"q1":620000,"med":728000,"q3":980000,"hi":1404000,"mean":808000},
      {"g":"Persin","lo":512000,"q1":612000,"med":716000,"q3":964000,"hi":1476000,"mean":808000},
      {"g":"PGI","lo":500000,"q1":580000,"med":704000,"q3":940000,"hi":1484000,"mean":792000},
      {"g":"Turkmen","lo":512000,"q1":640000,"med":724000,"q3":1036000,"hi":1428000,"mean":844000}
    ]},
    "encoding": {"x": {"field": "g", "type": "nominal", "sort": null, "axis": null, "scale": {"range": [101, 306], "paddingInner": 0.07, "paddingOuter": 0}}},
    "layer": [
      {"mark": {"type": "rule", "strokeWidth": 1.2, "opacity": 0.65},
       "encoding": {"y": {"field": "lo", "type": "quantitative", "title": null, "scale": {"domain": [0, 1600000], "nice": false}, "axis": {"values": [0,200000,400000,600000,800000,1000000,1200000,1400000,1600000], "format": "d", "grid": true, "labelOverlap": false}},
         "y2": {"field": "hi"},
         "color": {"field": "g", "type": "nominal", "title": null, "scale": {"domain": ["Arab","Azeri","Baluch","Kurd","Lur","Persin","PGI","Turkmen"], "range": ["#4a8bd1","#e8691f","#979797","#fdb308","#3560be","#5c9e3b","#1c4a7d","#8b3311"]}, "legend": {"offset": 25}}}},
      {"mark": {"type": "tick", "size": 10, "thickness": 1.2, "opacity": 0.75},
       "encoding": {"y": {"field": "lo", "type": "quantitative", "title": null, "axis": {"values": [0,200000,400000,600000,800000,1000000,1200000,1400000,1600000], "format": "d", "grid": true, "labelOverlap": false}},
         "color": {"field": "g", "type": "nominal", "title": null, "scale": {"domain": ["Arab","Azeri","Baluch","Kurd","Lur","Persin","PGI","Turkmen"], "range": ["#4a8bd1","#e8691f","#979797","#fdb308","#3560be","#5c9e3b","#1c4a7d","#8b3311"]}, "legend": {"offset": 25}}}},
      {"mark": {"type": "tick", "size": 10, "thickness": 1.2, "opacity": 0.75},
       "encoding": {"y": {"field": "hi", "type": "quantitative", "title": null, "axis": {"values": [0,200000,400000,600000,800000,1000000,1200000,1400000,1600000], "format": "d", "grid": true, "labelOverlap": false}},
         "color": {"field": "g", "type": "nominal", "title": null, "scale": {"domain": ["Arab","Azeri","Baluch","Kurd","Lur","Persin","PGI","Turkmen"], "range": ["#4a8bd1","#e8691f","#979797","#fdb308","#3560be","#5c9e3b","#1c4a7d","#8b3311"]}, "legend": {"offset": 25}}}},
      {"mark": {"type": "bar", "stroke": "#ffffff", "strokeOpacity": 0.4, "strokeWidth": 1.2},
       "encoding": {"y": {"field": "q1", "type": "quantitative", "title": null, "axis": {"values": [0,200000,400000,600000,800000,1000000,1200000,1400000,1600000], "format": "d", "grid": true, "labelOverlap": false}}, "y2": {"field": "q3"},
         "color": {"field": "g", "type": "nominal", "title": null, "scale": {"domain": ["Arab","Azeri","Baluch","Kurd","Lur","Persin","PGI","Turkmen"], "range": ["#4a8bd1","#e8691f","#979797","#fdb308","#3560be","#5c9e3b","#1c4a7d","#8b3311"]}, "legend": {"offset": 25}}}},
      {"mark": {"type": "tick", "size": 24, "thickness": 1.2, "color": "#000000", "opacity": 0.28},
       "encoding": {"y": {"field": "med", "type": "quantitative", "title": null, "axis": {"values": [0,200000,400000,600000,800000,1000000,1200000,1400000,1600000], "format": "d", "grid": true, "labelOverlap": false}}}},
      {"mark": {"type": "point", "shape": "M-1,-1L1,1M1,-1L-1,1", "size": 45, "filled": false, "strokeWidth": 1, "color": "#000000", "opacity": 0.35},
       "encoding": {"y": {"field": "mean", "type": "quantitative", "title": null, "axis": {"values": [0,200000,400000,600000,800000,1000000,1200000,1400000,1600000], "format": "d", "grid": true, "labelOverlap": false}}}},
      {"data": {"values": [{"g":"Arab","o":1460000},{"g":"Azeri","o":1500000},{"g":"Baluch","o":1476000},{"g":"Baluch","o":1500000},{"g":"PGI","o":1490000}]},
       "mark": {"type": "circle", "size": 16, "opacity": 1},
       "encoding": {"y": {"field": "o", "type": "quantitative", "title": null, "axis": {"values": [0,200000,400000,600000,800000,1000000,1200000,1400000,1600000], "format": "d", "grid": true, "labelOverlap": false}},
         "color": {"field": "g", "type": "nominal", "title": null, "scale": {"domain": ["Arab","Azeri","Baluch","Kurd","Lur","Persin","PGI","Turkmen"], "range": ["#4a8bd1","#e8691f","#979797","#fdb308","#3560be","#5c9e3b","#1c4a7d","#8b3311"]}, "legend": {"offset": 25}}}}
    ]
  },
  {
    "width": 391, "height": 141,
    "title": {"text": "Long ROHs", "font": "Liberation Serif", "fontSize": 25, "fontWeight": "bold", "color": "#12123a", "offset": 0},
    "data": {"values": [
      {"g":"Arab","lo":1560000,"q1":1920000,"med":2320000,"q3":2950000,"hi":3240000,"mean":2880000},
      {"g":"Azeri","lo":1500000,"q1":1900000,"med":2300000,"q3":3000000,"hi":4600000,"mean":2750000},
      {"g":"Baluch","lo":1500000,"q1":1750000,"med":2250000,"q3":2800000,"hi":4300000,"mean":2550000},
      {"g":"Kurd","lo":1500000,"q1":1820000,"med":2150000,"q3":2650000,"hi":3540000,"mean":2600000},
      {"g":"Lur","lo":1590000,"q1":1820000,"med":2220000,"q3":2450000,"hi":2880000,"mean":2280000},
      {"g":"Persian","lo":1590000,"q1":1750000,"med":2180000,"q3":2550000,"hi":2880000,"mean":2400000},
      {"g":"PGI","lo":1500000,"q1":1820000,"med":2320000,"q3":2800000,"hi":4140000,"mean":2500000},
      {"g":"Turkmen","lo":1560000,"q1":1650000,"med":2380000,"q3":4070000,"hi":7600000,"mean":3800000}
    ]},
    "encoding": {"x": {"field": "g", "type": "nominal", "sort": null, "axis": null, "scale": {"range": [100, 291], "paddingInner": 0.03, "paddingOuter": 0}}},
    "layer": [
      {"mark": {"type": "rule", "strokeWidth": 1.2, "opacity": 0.65},
       "encoding": {"y": {"field": "lo", "type": "quantitative", "title": null, "scale": {"domain": [0, 14000000], "nice": false}, "axis": {"values": [0,2000000,4000000,6000000,8000000,10000000,12000000,14000000], "format": "d", "grid": true, "labelOverlap": false}},
         "y2": {"field": "hi"},
         "color": {"field": "g", "type": "nominal", "title": null, "scale": {"domain": ["Arab","Azeri","Baluch","Kurd","Lur","Persian","PGI","Turkmen"], "range": ["#4a8bd1","#e8691f","#979797","#fdb308","#3560be","#5c9e3b","#1c4a7d","#8b3311"]}}}},
      {"mark": {"type": "tick", "size": 10, "thickness": 1.2, "opacity": 0.75},
       "encoding": {"y": {"field": "lo", "type": "quantitative", "title": null, "axis": {"values": [0,2000000,4000000,6000000,8000000,10000000,12000000,14000000], "format": "d", "grid": true, "labelOverlap": false}},
         "color": {"field": "g", "type": "nominal", "title": null, "scale": {"domain": ["Arab","Azeri","Baluch","Kurd","Lur","Persian","PGI","Turkmen"], "range": ["#4a8bd1","#e8691f","#979797","#fdb308","#3560be","#5c9e3b","#1c4a7d","#8b3311"]}}}},
      {"mark": {"type": "tick", "size": 10, "thickness": 1.2, "opacity": 0.75},
       "encoding": {"y": {"field": "hi", "type": "quantitative", "title": null, "axis": {"values": [0,2000000,4000000,6000000,8000000,10000000,12000000,14000000], "format": "d", "grid": true, "labelOverlap": false}},
         "color": {"field": "g", "type": "nominal", "title": null, "scale": {"domain": ["Arab","Azeri","Baluch","Kurd","Lur","Persian","PGI","Turkmen"], "range": ["#4a8bd1","#e8691f","#979797","#fdb308","#3560be","#5c9e3b","#1c4a7d","#8b3311"]}}}},
      {"mark": {"type": "bar", "stroke": "#ffffff", "strokeOpacity": 0.4, "strokeWidth": 1.2},
       "encoding": {"y": {"field": "q1", "type": "quantitative", "title": null, "axis": {"values": [0,2000000,4000000,6000000,8000000,10000000,12000000,14000000], "format": "d", "grid": true, "labelOverlap": false}}, "y2": {"field": "q3"},
         "color": {"field": "g", "type": "nominal", "title": null, "scale": {"domain": ["Arab","Azeri","Baluch","Kurd","Lur","Persian","PGI","Turkmen"], "range": ["#4a8bd1","#e8691f","#979797","#fdb308","#3560be","#5c9e3b","#1c4a7d","#8b3311"]}}}},
      {"mark": {"type": "tick", "size": 23, "thickness": 1.2, "color": "#000000", "opacity": 0.28},
       "encoding": {"y": {"field": "med", "type": "quantitative", "title": null, "axis": {"values": [0,2000000,4000000,6000000,8000000,10000000,12000000,14000000], "format": "d", "grid": true, "labelOverlap": false}}}},
      {"mark": {"type": "point", "shape": "M-1,-1L1,1M1,-1L-1,1", "size": 45, "filled": false, "strokeWidth": 1, "color": "#000000", "opacity": 0.35},
       "encoding": {"y": {"field": "mean", "type": "quantitative", "title": null, "axis": {"values": [0,2000000,4000000,6000000,8000000,10000000,12000000,14000000], "format": "d", "grid": true, "labelOverlap": false}}}},
      {"data": {"values": [{"g":"Arab","o":12000000},{"g":"Arab","o":5260000},{"g":"Arab","o":4530000},{"g":"Azeri","o":12000000},{"g":"Azeri","o":5400000},{"g":"Baluch","o":12300000},{"g":"Baluch","o":5260000},{"g":"Kurd","o":12000000},{"g":"Kurd","o":5260000},{"g":"Kurd","o":4530000},{"g":"Lur","o":5430000},{"g":"Persian","o":5260000},{"g":"PGI","o":12300000},{"g":"PGI","o":5200000},{"g":"PGI","o":4530000},{"g":"PGI","o":4370000},{"g":"Turkmen","o":11900000}]},
       "mark": {"type": "circle", "size": 16, "opacity": 1},
       "encoding": {"y": {"field": "o", "type": "quantitative", "title": null, "axis": {"values": [0,2000000,4000000,6000000,8000000,10000000,12000000,14000000], "format": "d", "grid": true, "labelOverlap": false}},
         "color": {"field": "g", "type": "nominal", "title": null, "scale": {"domain": ["Arab","Azeri","Baluch","Kurd","Lur","Persian","PGI","Turkmen"], "range": ["#4a8bd1","#e8691f","#979797","#fdb308","#3560be","#5c9e3b","#1c4a7d","#8b3311"]}}}}
    ]
  }
  ]
}
]
}
